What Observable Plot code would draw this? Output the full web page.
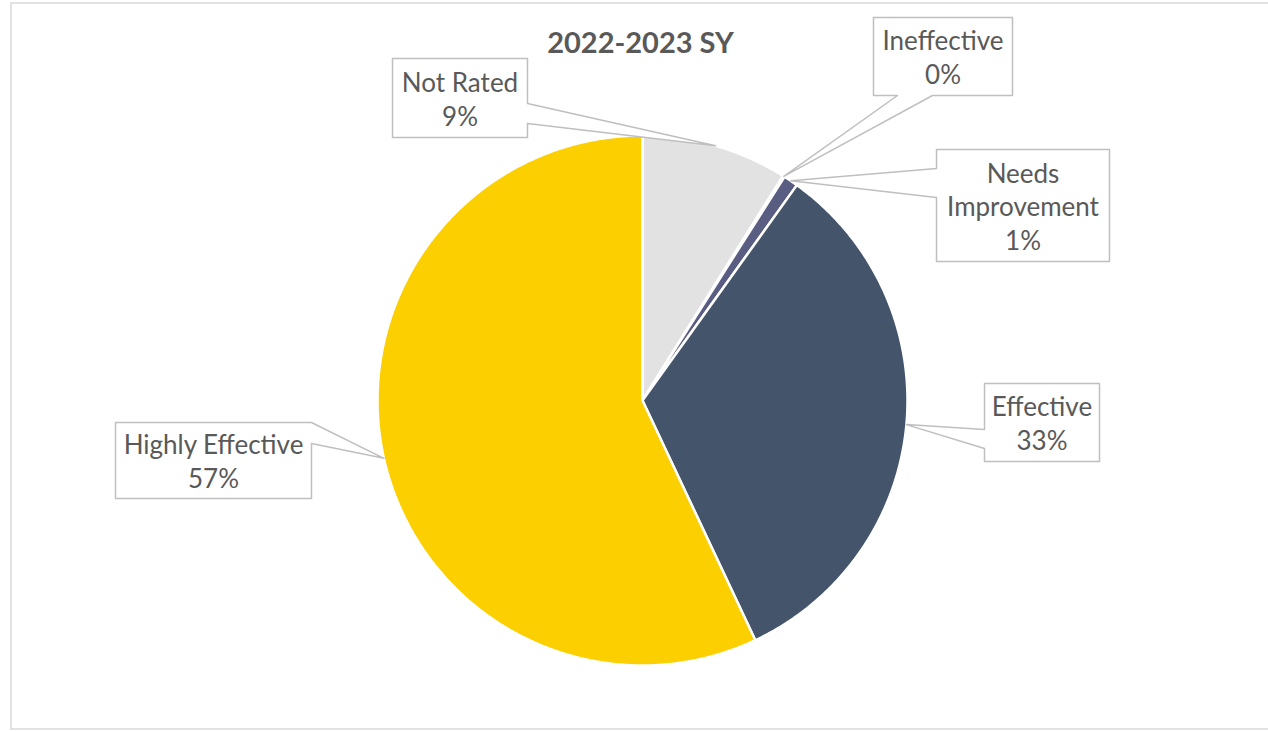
<!DOCTYPE html>
<html>
<head>
<meta charset="utf-8">
<script src="https://cdn.jsdelivr.net/npm/d3@7"></script>
<script src="https://cdn.jsdelivr.net/npm/@observablehq/plot@0.6"></script>
<style>
  html, body { margin: 0; padding: 0; background: #fff; }
  #chart { width: 1268px; height: 731px; }
</style>
</head>
<body>
<div id="chart"></div>
<script>
// ---- data ----
const title = "2022-2023 SY";
const categories = ["Not Rated", "Ineffective", "Needs Improvement", "Effective", "Highly Effective"];
const values = [8.9, 0.1, 0.9, 33.1, 57.0];   // percent
const labelNames = ["Not Rated", "Ineffective", "Needs\nImprovement", "Effective", "Highly Effective"];

// ---- styles ----
const colors = ["#e2e2e2", "#7a7a8c", "#5a5d82", "#44546a", "#fccf00"];

// ---- layout ----
const W = 1268, H = 731;
const cx = 642, cy = 400, R = 265;
// callout boxes: [x1, y1, x2, y2], pointer side and base positions
const callouts = {
  "Not Rated":         {box: [392, 58, 527, 137],  side: "right",  base: [103, 123]},
  "Ineffective":       {box: [873, 17, 1012, 95],  side: "bottom", base: [897, 932]},
  "Needs Improvement": {box: [936, 149, 1109, 261], side: "left",  base: [168, 197]},
  "Effective":         {box: [984, 383, 1099, 461], side: "left",  base: [429, 448]},
  "Highly Effective":  {box: [115, 422, 311, 498], side: "right",  base: [422, 443]}
};

const rows = categories.map((c, i) => ({category: c, value: values[i], name: labelNames[i]}));
const arcs = d3.pie().sort(null).value(d => d.value)(rows);

const pt = (a, r) => [cx + r * Math.sin(a), cy - r * Math.cos(a)];

// slice polygons
const slicePts = arcs.flatMap(a => {
  const out = [{key: a.data.category, x: cx, y: cy}];
  const n = Math.max(2, Math.ceil((a.endAngle - a.startAngle) / (Math.PI / 360)));
  for (let k = 0; k <= n; k++) {
    const t = a.startAngle + (a.endAngle - a.startAngle) * k / n;
    const [x, y] = pt(t, R);
    out.push({key: a.data.category, x, y});
  }
  return out;
});

// callout shapes (box + pointer to slice mid-angle on the rim)
const calloutPts = arcs.flatMap(a => {
  const c = callouts[a.data.category];
  const [x1, y1, x2, y2] = c.box;
  const [tx, ty] = pt((a.startAngle + a.endAngle) / 2, R);
  const [b1, b2] = c.base;
  let poly;
  if (c.side === "right") {
    poly = [[x1, y1], [x2, y1], [x2, b1], [tx, ty], [x2, b2], [x2, y2], [x1, y2]];
  } else if (c.side === "left") {
    poly = [[x1, y1], [x2, y1], [x2, y2], [x1, y2], [x1, b2], [tx, ty], [x1, b1]];
  } else {
    poly = [[x1, y1], [x2, y1], [x2, y2], [b2, y2], [tx, ty], [b1, y2], [x1, y2]];
  }
  return poly.map(([x, y]) => ({key: a.data.category, x, y}));
});

const labelRows = arcs.map(a => {
  const c = callouts[a.data.category];
  const [x1, y1, x2, y2] = c.box;
  return {x: (x1 + x2) / 2, y: (y1 + y2) / 2, text: a.data.name + "\n" + Math.round(a.data.value) + "%"};
});

const chart = Plot.plot({
  width: W,
  height: H,
  margin: 0,
  x: {domain: [0, W], range: [0, W], axis: null},
  y: {domain: [0, H], range: [0, H], axis: null},
  color: {domain: categories, range: colors},
  style: {background: "white", fontFamily: "Lato, 'Open Sans', sans-serif"},
  marks: [
    Plot.rect([0], {x1: () => 11, x2: () => 1280, y1: () => 3, y2: () => 729, fill: "none", stroke: "#d9d9d9", strokeWidth: 1.5}),
    Plot.line(slicePts, {x: "x", y: "y", z: "key", fill: "key", stroke: "white", strokeWidth: 2.5, curve: "linear-closed"}),
    Plot.line(calloutPts, {x: "x", y: "y", z: "key", fill: "white", stroke: "#bfbfbf", strokeWidth: 1.5, curve: "linear-closed"}),
    Plot.text(labelRows, {x: "x", y: "y", text: "text", fontSize: 26, lineHeight: 1.3, fill: "#595959", textAnchor: "middle"}),
    Plot.text([title], {x: () => 640, y: () => 43, text: d => d, fontSize: 29, fontWeight: "bold", fill: "#595959"})
  ]
});
document.getElementById("chart").appendChild(chart);
</script>
</body>
</html>
